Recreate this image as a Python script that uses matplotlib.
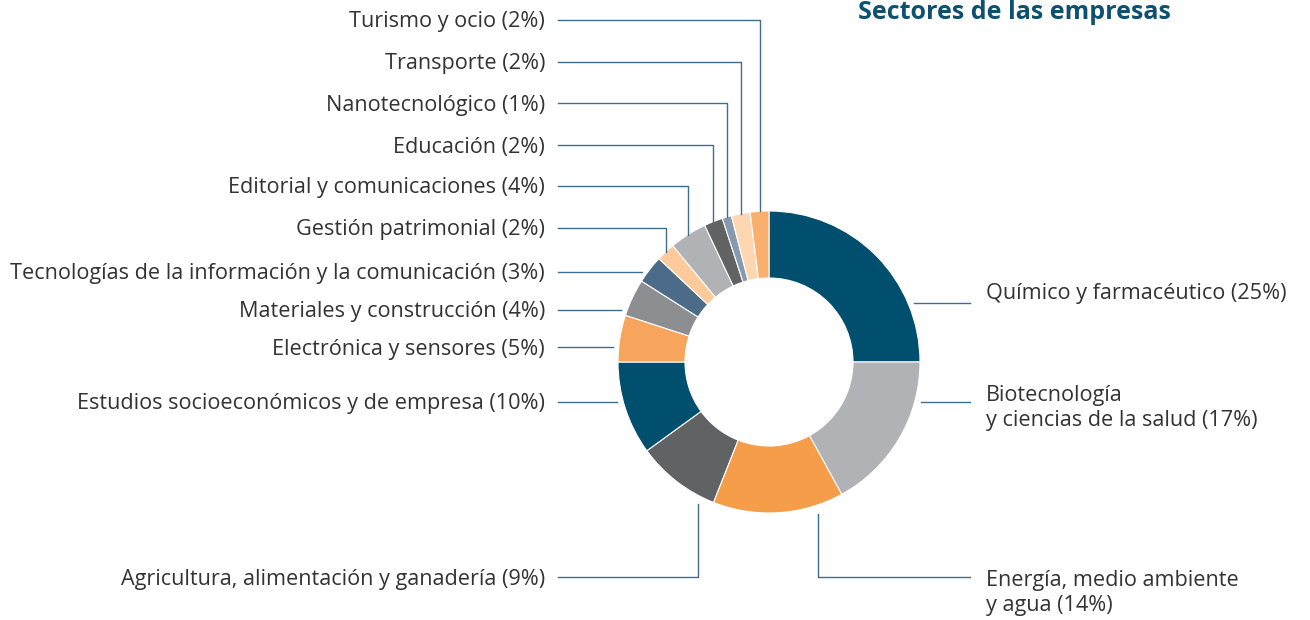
import matplotlib.pyplot as plt
import numpy as np

sectors = ['Químico y farmacéutico', 'Biotecnología\ny ciencias de la salud', 'Energía, medio ambiente\ny agua',
           'Agricultura, alimentación y ganadería', 'Estudios socioeconómicos y de empresa',
           'Electrónica y sensores', 'Materiales y construcción',
           'Tecnologías de la información y la comunicación', 'Gestión patrimonial',
           'Editorial y comunicaciones', 'Educación', 'Nanotecnológico', 'Transporte', 'Turismo y ocio']
shares = [25, 17, 14, 9, 10, 5, 4, 3, 2, 4, 2, 1, 2, 2]
colors = ['#004f6e', '#b1b2b5', '#f69d4a', '#616264', '#004f6e', '#f7a45d', '#8d8e91',
          '#4b6b89', '#fdca9c', '#b1b2b5', '#616264', '#8799ae', '#fed6b2', '#f9b06f']

# label placement in pixels from the top-left corner: text x, text y, leader kind, leader y / x
label_pos = [
    (986, 294, 'right', 303),
    (986, 408, 'right', 402),
    (986, 593, 'down_right', 818),
    (545, 579, 'down_left', 698),
    (545, 404, 'left', 402),
    (545, 349, 'left', 347),
    (545, 312, 'left', 310),
    (545, 274, 'left', 272),
    (545, 230, 'top', 228),
    (545, 188, 'top', 186),
    (545, 147, 'top', 145),
    (545, 105, 'top', 103),
    (545, 64, 'top', 62),
    (545, 22, 'top', 20),
]

W, H = 1310, 620
CX, CY, R, RING = 769, 362, 151, 67
LINE = '#3d6e8c'
TXT = '#333333'

plt.rcParams['font.family'] = ['Open Sans', 'DejaVu Sans']

def py(y):
    return H - y

fig = plt.figure(figsize=(13.1, 6.2), dpi=100)
ax = fig.add_axes([0, 0, 1, 1])
wedges, _ = ax.pie(shares, colors=colors, startangle=90, counterclock=False, radius=R,
                   center=(CX, py(CY)), wedgeprops=dict(width=RING, edgecolor='white', linewidth=0.8))
ax.set_xlim(0, W)
ax.set_ylim(0, H)
ax.set_aspect('equal')
ax.axis('off')

for name, share, w, (tx, ty, kind, lv) in zip(sectors, shares, wedges, label_pos):
    label = f'{name} ({share}%)'
    ha = 'left' if tx > CX else 'right'
    ax.text(tx, py(ty), label, ha=ha, va='center', fontsize=15.6, color=TXT, linespacing=1.3)
    if kind == 'right':
        dy = CY - lv
        x0 = CX + np.sqrt(R**2 - dy**2) + 6
        ax.plot([x0, 970], [py(lv), py(lv)], color=LINE, lw=1)
    elif kind == 'left':
        dy = CY - lv
        x0 = CX - np.sqrt(R**2 - dy**2) - 6
        ax.plot([558, x0], [py(lv), py(lv)], color=LINE, lw=1)
    elif kind == 'top':
        mid = np.deg2rad((w.theta1 + w.theta2) / 2)
        vx = CX + R * np.cos(mid)
        vy = py(CY) + R * np.sin(mid)
        ax.plot([558, vx, vx], [py(lv), py(lv), vy], color=LINE, lw=1)
    else:
        dx = lv - CX
        y0 = CY + np.sqrt(R**2 - dx**2) + 9
        xe = 970 if kind == 'down_right' else 558
        ax.plot([lv, lv, xe], [py(y0), py(577), py(577)], color=LINE, lw=1)

ax.text(858, py(19), 'Sectores de las empresas', ha='left', va='baseline', fontsize=18,
        fontweight='bold', color='#0e506f')

fig.savefig('out.png', dpi=100)
